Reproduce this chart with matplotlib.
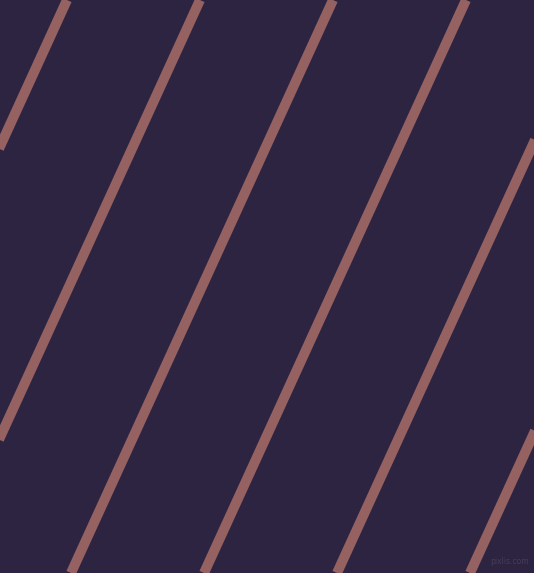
import matplotlib
matplotlib.use("Agg")
import matplotlib.pyplot as plt

# Data: x position where each stripe crosses the top edge (y=0) and bottom edge (y=573)
top_x = [67, 200, 333, 466, 599, 732]
bottom_x = [-195, -62, 71, 204, 337, 470]
y_top = 0
y_bottom = 573

W, H = 534, 573
DPI = 100
bg = "#2d2442"
line_color = "#956261"

fig = plt.figure(figsize=(W / DPI, H / DPI), dpi=DPI, facecolor=bg)
ax = fig.add_axes([0, 0, 1, 1])
ax.set_facecolor(bg)
ax.set_xlim(0, W)
ax.set_ylim(H, 0)
ax.axis("off")

lw_px = 10.0
for xt, xb in zip(top_x, bottom_x):
    ax.plot([xt, xb], [y_top, y_bottom], color=line_color,
            linewidth=lw_px * 72 / DPI, solid_capstyle="butt")

ax.text(529, 566, "pixlis.com", ha="right", va="bottom",
        fontsize=5.5, color="#453d58", family="DejaVu Sans")

fig.savefig("out.png", dpi=DPI, facecolor=bg)
